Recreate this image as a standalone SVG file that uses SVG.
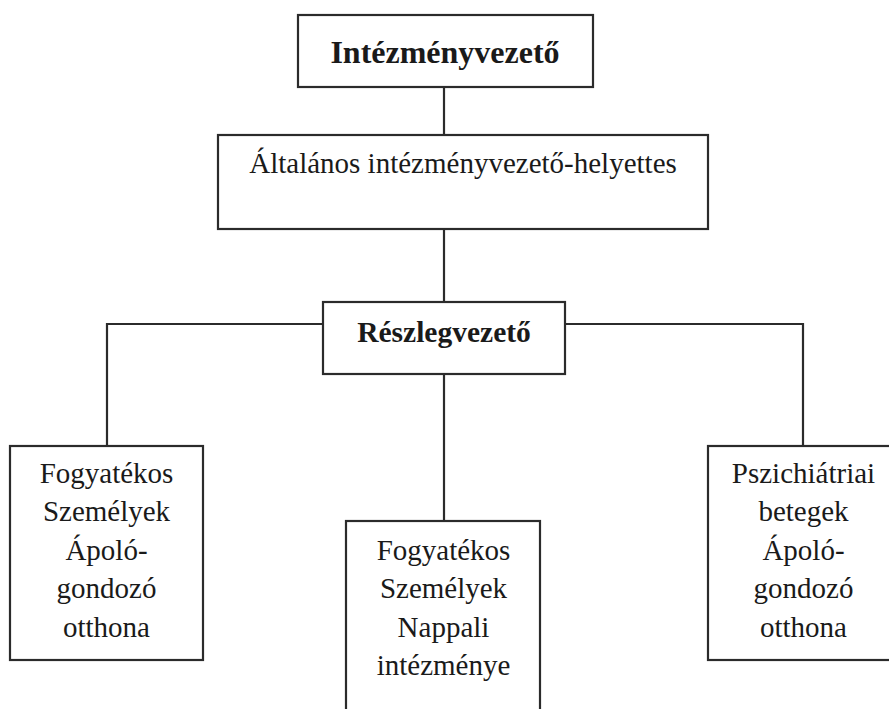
<svg xmlns="http://www.w3.org/2000/svg" width="889" height="709" viewBox="0 0 889 709">
<style>
.box{fill:#fff;stroke:#2b2b2b;stroke-width:2.2}
.ln{fill:none;stroke:#2b2b2b;stroke-width:2.2}
text{font-family:"Liberation Serif","Times New Roman",serif;fill:#1a1a1a;text-anchor:middle}
.r{font-size:29px}
.b{font-weight:bold}
</style>
<rect width="889" height="709" fill="#fff"/>
<g id="connectors">
<path class="ln" d="M444 87V135"/>
<path class="ln" d="M444 229V302"/>
<path class="ln" d="M107 446V324H323"/>
<path class="ln" d="M565 324H803V446"/>
<path class="ln" d="M444 374V521"/>
</g>
<g id="n1">
<rect class="box" x="298" y="15" width="295" height="72"/>
<text class="b" x="445" y="63" font-size="32">Intézményvezető</text>
</g>
<g id="n2">
<rect class="box" x="218" y="135" width="490" height="94"/>
<text class="r" x="463" y="173">Általános intézményvezető-helyettes</text>
</g>
<g id="n3">
<rect class="box" x="323" y="302" width="242" height="72"/>
<text class="b" x="444" y="342" font-size="29.5">Részlegvezető</text>
</g>
<g id="n4">
<rect class="box" x="10" y="446" width="193" height="214"/>
<text class="r" x="106.5" y="483">Fogyatékos</text>
<text class="r" x="106.5" y="521">Személyek</text>
<text class="r" x="106.5" y="560">Ápoló-</text>
<text class="r" x="106.5" y="598">gondozó</text>
<text class="r" x="106.5" y="637">otthona</text>
</g>
<g id="n5">
<rect class="box" x="346" y="521" width="194" height="200"/>
<text class="r" x="443.5" y="560">Fogyatékos</text>
<text class="r" x="443.5" y="598">Személyek</text>
<text class="r" x="443.5" y="637">Nappali</text>
<text class="r" x="443.5" y="675">intézménye</text>
</g>
<g id="n6">
<rect class="box" x="708" y="446" width="192" height="214"/>
<text class="r" x="803.5" y="483">Pszichiátriai</text>
<text class="r" x="803.5" y="521">betegek</text>
<text class="r" x="803.5" y="560">Ápoló-</text>
<text class="r" x="803.5" y="598">gondozó</text>
<text class="r" x="803.5" y="637">otthona</text>
</g>
</svg>
